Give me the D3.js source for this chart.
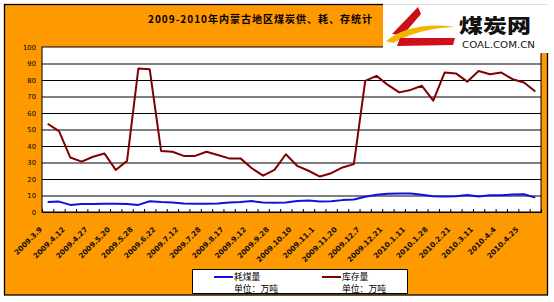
<!DOCTYPE html>
<meta charset="utf-8">
<style>
body { margin: 0; background: #fff; }
svg { display: block; }
text { font-family: "DejaVu Sans", sans-serif; }
.ylab text { font-size: 6.8px; fill: #000; }
.xlab text { font-size: 7.3px; font-weight: bold; fill: #111; }
.legend text { font-family: "Noto Sans CJK SC", sans-serif; font-size: 8.8px; fill: #000; }
</style>
<svg width="554" height="302"></svg>
<script src="https://d3js.org/d3.v7.min.js"></script>
<script>

// tick labels (every other category is labelled)
var tickLabels = ["2009.3.9", "2009.4.12", "2009.4.27", "2009.5.20", "2009.5.28", "2009.6.22",
  "2009.7.12", "2009.7.28", "2009.8.17", "2009.9.12", "2009.9.28", "2009.10.10",
  "2009.11.1", "2009.11.20", "2009.12.7", "2009.12.21", "2010.1.11", "2010.1.28",
  "2010.2.21", "2010.3.11", "2010.4.4", "2010.4.25"];

// 耗煤量
var consumption = [6, 6.3, 4.3, 4.8, 4.9, 5, 5, 4.9, 4.3, 6.5, 6, 5.8, 5.1, 5, 5, 5.2,
  5.8, 6, 6.6, 5.7, 5.6, 5.8, 6.6, 6.9, 6.4, 6.5, 7.2, 7.6, 9.3, 10.4, 11.1, 11.2,
  11.2, 10.4, 9.6, 9.4, 9.6, 10.3, 9.4, 10.2, 10.2, 10.6, 10.8, 8.7];

// 库存量
var stock = [53.5, 49, 33, 30.5, 33.5, 35.5, 25.5, 31, 87, 86.5, 37, 36.5, 34, 34, 36.5, 34.5,
  32.5, 32.5, 26.5, 22, 25.5, 35, 28, 25, 21.5, 23.5, 27, 29, 79.5, 82.5, 77, 72.5,
  74, 76.5, 67.5, 84.5, 84, 79, 85.5, 83.5, 84.5, 80.5, 78.5, 73];

var yTicks = d3.range(0, 101, 10);

var svg = d3.select("svg");
var orange = "#FF9900";

var plotL = 42, plotR = 541, plotT = 47, plotB = 212;

// background + outer frame
svg.append("rect").attr("x", 4.5).attr("y", 4.5).attr("width", 543).attr("height", 290.5)
    .attr("fill", orange).attr("stroke", "#000").attr("stroke-width", 1.3);

var n = stock.length;
var x = d3.scaleBand().domain(d3.range(n)).range([plotL, plotR]);
var xEdge = d3.scaleLinear().domain([0, n]).range([plotL, plotR]);
var y = d3.scaleLinear().domain([0, 100]).range([plotB, plotT]);
var cx = function(i) { return x(i) + x.bandwidth() / 2; };

// plot area
svg.append("rect").attr("x", plotL).attr("y", plotT).attr("width", plotR - plotL).attr("height", plotB - plotT)
    .attr("fill", "#fff").attr("stroke", "#000").attr("stroke-width", 1);

// gridlines
svg.append("g")
    .attr("transform", "translate(" + plotL + ",0)")
    .call(d3.axisLeft(y).tickValues(yTicks.slice(1, -1)).tickSize(-(plotR - plotL)).tickFormat(""))
    .call(function(g) { g.select(".domain").remove(); g.selectAll("line").attr("stroke", "#000"); });

// y labels
svg.append("g").attr("class", "ylab")
    .attr("transform", "translate(" + plotL + ",0)")
    .call(d3.axisLeft(y).tickValues(yTicks).tickSize(0).tickPadding(6))
    .call(function(g) { g.select(".domain").remove(); g.selectAll("text").attr("dy", "0.35em"); });

// x axis ticks (inside)
svg.append("g")
    .attr("transform", "translate(0," + plotB + ")")
    .call(d3.axisBottom(xEdge).tickValues(d3.range(0, n + 1)).tickSize(-3).tickFormat(""))
    .call(function(g) { g.select(".domain").attr("stroke", "#000"); g.selectAll("line").attr("stroke", "#000"); });

// x labels
svg.append("g").attr("class", "xlab")
  .selectAll("text")
  .data(tickLabels)
  .enter().append("text")
    .attr("transform", function(d, i) {
      return "translate(" + (cx(i * 2) - 5) + "," + (plotB + 18) + ") rotate(-45)";
    })
    .attr("text-anchor", "end")
    .text(function(d) { return d; });

// lines
var line = d3.line()
    .x(function(d, i) { return cx(i); })
    .y(function(d) { return y(d); });

svg.append("path").datum(stock)
    .attr("fill", "none").attr("stroke", "#800000").attr("stroke-width", 2)
    .attr("stroke-linejoin", "round").attr("d", line);

svg.append("path").datum(consumption)
    .attr("fill", "none").attr("stroke", "#1010E0").attr("stroke-width", 2)
    .attr("stroke-linejoin", "round").attr("d", line);

// title
svg.append("text")
    .attr("x", 148).attr("y", 23)
    .attr("textLength", 224)
    .attr("lengthAdjust", "spacing")
    .style("font-family", "'Noto Sans CJK SC', sans-serif")
    .style("font-size", "10px").style("font-weight", "bold").attr("fill", "#000")
    .text("2009-2010年内蒙古地区煤炭供、耗、存统计");

// logo
var logo = svg.append("g");
logo.append("rect").attr("x", 383).attr("y", 0).attr("width", 171).attr("height", 53).attr("fill", "#fff");
logo.append("line").attr("x1", 383).attr("x2", 548).attr("y1", 4.5).attr("y2", 4.5)
    .attr("stroke", "#ddd").attr("stroke-width", 1);
logo.append("path").attr("d", "M418 7 L392 34 L403 35 L421 14 Z").attr("fill", "#c81018");
logo.append("path").attr("d", "M386 41 Q412 21 455 27 Q420 28 393 43 Z").attr("fill", "#f4b400");
logo.append("path").attr("d", "M400 38 L455 38 L453 45 L397 46 Z").attr("fill", "#d01018");
logo.append("text").attr("x", 459).attr("y", 33)
    .attr("textLength", 72).attr("lengthAdjust", "spacingAndGlyphs")
    .style("font-family", "'Noto Sans CJK SC', sans-serif")
    .style("font-size", "19.5px").style("font-weight", "900").attr("fill", "#111")
    .text("煤炭网");
logo.append("text").attr("x", 462).attr("y", 47.5)
    .attr("textLength", 73).attr("lengthAdjust", "spacingAndGlyphs")
    .style("font-size", "9.5px").attr("fill", "#111")
    .text("COAL.COM.CN");

// legend
var legend = svg.append("g").attr("class", "legend");
legend.append("rect").attr("x", 192.5).attr("y", 269.5).attr("width", 215).attr("height", 24)
    .attr("fill", "#fff").attr("stroke", "#000").attr("stroke-width", 1);

var legendItems = [
  { name: "耗煤量", color: "#1010E0", x: 214 },
  { name: "库存量", color: "#800000", x: 322 }
];
legendItems.forEach(function(d) {
  legend.append("line").attr("x1", d.x).attr("x2", d.x + 19).attr("y1", 277).attr("y2", 277)
      .attr("stroke", d.color).attr("stroke-width", 2);
  legend.append("text").attr("x", d.x + 20).attr("y", 279.5).text(d.name);
  legend.append("text").attr("x", d.x + 20).attr("y", 292).text("单位：万吨");
});

</script>
